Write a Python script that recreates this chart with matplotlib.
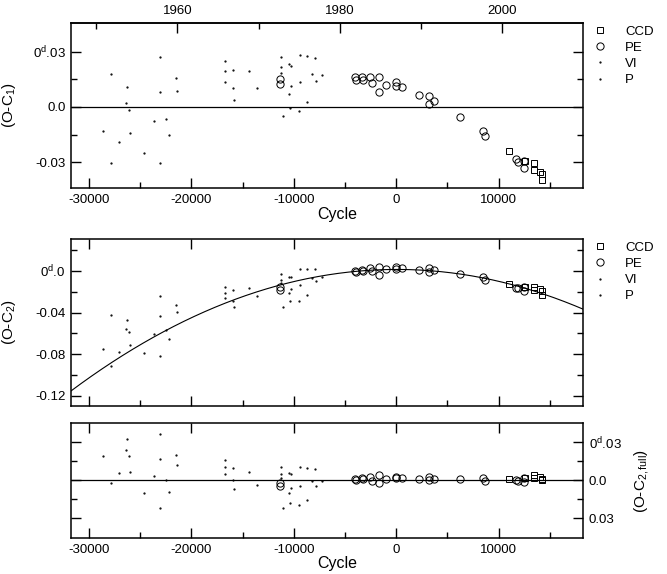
import numpy as np
import matplotlib.pyplot as plt
from matplotlib.ticker import MultipleLocator, FixedLocator

plt.rcParams['font.family'] = ['Liberation Sans', 'DejaVu Sans']
plt.rcParams['mathtext.fontset'] = 'custom'
plt.rcParams['mathtext.rm'] = 'Liberation Sans'
plt.rcParams['mathtext.it'] = 'Liberation Sans:italic'

# photographic timings
p_cycle = [-28600, -27880, -27880, -27090, -26340, -26300, -26080, -25980, -24640,
           -23660, -23100, -23070, -23070, -22480, -22190, -21500, -21370]
p_oc1 = [-0.0132, 0.0179, -0.0307, -0.0190, 0.0020, 0.0107, -0.0016, -0.0139, -0.0248,
         -0.0076, 0.0081, 0.0273, -0.0305, -0.0065, -0.0152, 0.0159, 0.0088]
p_oc2 = [-0.0749, -0.0425, -0.0911, -0.0779, -0.0556, -0.0468, -0.0587, -0.0708, -0.0793,
         -0.0603, -0.0436, -0.0244, -0.0822, -0.0571, -0.0653, -0.0329, -0.0398]
p_res = [0.0186, 0.0463, -0.0023, 0.0059, 0.0235, 0.0321, 0.0188, 0.0061, -0.0102,
         0.0033, 0.0169, 0.0360, -0.0218, 0.0002, -0.0095, 0.0194, 0.0118]

# visual timings
vi_cycle = [-16700, -16700, -16700, -15980, -15980, -15820, -14340, -13600, -11210,
            -11210, -11210, -11080, -10460, -10420, -10360, -10320, -10260, -9510,
            -9410, -9380, -8690, -8690, -8200, -7970, -7810, -7230]
vi_oc1 = [0.0249, 0.0193, 0.0137, 0.0201, 0.0103, 0.0038, 0.0195, 0.0105, 0.0273,
          0.0217, 0.0184, -0.0050, 0.0072, 0.0235, -0.0004, 0.0224, 0.0112, -0.0020,
          0.0136, 0.0284, 0.0275, 0.0025, 0.0177, 0.0267, 0.0139, 0.0175]
vi_oc2 = [-0.0152, -0.0208, -0.0264, -0.0187, -0.0285, -0.0347, -0.0164, -0.0240, -0.0029,
          -0.0085, -0.0118, -0.0350, -0.0216, -0.0053, -0.0291, -0.0062, -0.0173, -0.0291,
          -0.0133, 0.0015, 0.0019, -0.0231, -0.0070, 0.0024, -0.0101, -0.0055]
vi_res = [0.0158, 0.0102, 0.0046, 0.0095, -0.0003, -0.0070, 0.0061, -0.0039, 0.0103,
          0.0047, 0.0014, -0.0222, -0.0103, 0.0059, -0.0180, 0.0048, -0.0065, -0.0200,
          -0.0044, 0.0103, 0.0093, -0.0157, -0.0006, 0.0084, -0.0044, -0.0009]

# photoelectric timings
pe_cycle = [-11300, -11300, -4020, -3950, -3300, -3240, -2580, -2380, -1700, -1700,
            -1010, -30, -30, 590, 2190, 3200, 3200, 3730, 6210, 8500, 8660,
            11730, 11900, 12450, 12480]
pe_oc1 = [0.0150, 0.0125, 0.0161, 0.0148, 0.0161, 0.0146, 0.0161, 0.0128, 0.0164, 0.0081,
          0.0119, 0.0134, 0.0116, 0.0108, 0.0063, 0.0060, 0.0016, 0.0031, -0.0054, -0.0128,
          -0.0159, -0.0283, -0.0297, -0.0292, -0.0333]
pe_oc2 = [-0.0154, -0.0179, 0.0003, -0.0007, 0.0013, -0.0003, 0.0026, 0.0003, 0.0038, -0.0038,
          0.0016, 0.0036, 0.0016, 0.0026, 0.0013, 0.0026, -0.0007, 0.0010, -0.0029, -0.0061,
          -0.0087, -0.0161, -0.0167, -0.0157, -0.0190]
pe_res = [-0.0020, -0.0045, 0.0010, -0.0003, 0.0016, 0.0005, 0.0024, -0.0010, 0.0037, -0.0024,
          0.0010, 0.0024, 0.0016, 0.0016, 0.0010, 0.0024, -0.0003, 0.0010, 0.0010, 0.0016,
          -0.0010, -0.0003, -0.0010, 0.0016, -0.0016]

# CCD timings
ccd_cycle = [10980, 12520, 13400, 13400, 14020, 14250, 14250]
ccd_oc1 = [-0.0238, -0.0296, -0.0305, -0.0342, -0.0351, -0.0365, -0.0397]
ccd_oc2 = [-0.0128, -0.0150, -0.0157, -0.0183, -0.0176, -0.0192, -0.0228]
ccd_res = [0.0010, 0.0016, 0.0042, 0.0016, 0.0024, 0.0010, 0.0000]

# quadratic ephemeris (O-C2 fit): peak cycle, peak value, curvature
quad_peak_cycle = 55
quad_peak = 0.0015
quad_curv = 1.157e-10

# cycle <-> calendar year
cycle_1980 = -5520
cycles_per_year = 791.7

xlim = (-31750, 18250)


def cyc2yr(e):
    return 1980 + (np.asarray(e) - cycle_1980) / cycles_per_year


def yr2cyc(y):
    return cycle_1980 + (np.asarray(y) - 1980) * cycles_per_year


def style(ax):
    ax.set_xlim(xlim)
    ax.xaxis.set_major_locator(MultipleLocator(10000))
    ax.xaxis.set_minor_locator(MultipleLocator(5000))
    ax.tick_params(which='both', direction='in', right=True, width=1.0,
                   labelsize=9.5, pad=4)
    ax.tick_params(which='major', length=7)
    ax.tick_params(which='minor', length=4)
    for sp in ax.spines.values():
        sp.set_linewidth(1.1)


def draw_points(ax, vi, p, pe, ccd):
    ax.plot(vi_cycle, vi, '.', color='k', ms=1.2, label='VI', zorder=3)
    ax.plot(p_cycle, p, '.', color='k', ms=1.2, label='P', zorder=3)
    ax.plot(pe_cycle, pe, 'o', mfc='none', mec='k', mew=0.7, ms=5.2, label='PE', zorder=4)
    ax.plot(ccd_cycle, ccd, 's', mfc='none', mec='k', mew=0.7, ms=4.2, label='CCD', zorder=4)


def add_legend(ax):
    h, l = ax.get_legend_handles_labels()
    order = [l.index(n) for n in ['CCD', 'PE', 'VI', 'P']]
    ax.legend([h[i] for i in order], [l[i] for i in order], loc='upper left',
              bbox_to_anchor=(1.02, 0.985), frameon=False, fontsize=9.5,
              handlelength=1.0, handletextpad=1.4, labelspacing=0.3,
              borderaxespad=0, borderpad=0)


fig = plt.figure(figsize=(6.67, 5.74), dpi=100)

# --- top panel: O-C1
ax1 = fig.add_axes([0.1064, 0.6725, 0.768, 0.2875])
style(ax1)
ax1.tick_params(top=False)
ax1.axhline(0, color='k', lw=0.9, zorder=1)
draw_points(ax1, vi_oc1, p_oc1, pe_oc1, ccd_oc1)
ax1.set_ylim(-0.044, 0.0456)
ax1.yaxis.set_major_locator(FixedLocator([-0.03, 0.0, 0.03]))
ax1.yaxis.set_minor_locator(FixedLocator([-0.015, 0.015]))
ax1.set_yticklabels(['-0.03', '0.0', r'0$^{\mathrm{d}}$.03'])
ax1.set_xticks([-30000, -20000, -10000, 0, 10000])
ax1.set_xticklabels(['-30000', '-20000', '-10000', '0', '10000'])
ax1.set_ylabel(r'(O-C$_1$)', fontsize=11)
ax1.yaxis.set_label_coords(-0.104, 0.5)
ax1.set_xlabel('Cycle', fontsize=11.5)
ax1.xaxis.set_label_coords(0.52, -0.115)
add_legend(ax1)

sec = ax1.secondary_xaxis('top', functions=(cyc2yr, yr2cyc))
sec.xaxis.set_major_locator(FixedLocator([1960, 1980, 2000]))
sec.xaxis.set_minor_locator(FixedLocator([1950, 1970, 1990]))
sec.tick_params(which='both', direction='in', width=1.0, labelsize=9.5, pad=4)
sec.tick_params(which='major', length=7.5)
sec.tick_params(which='minor', length=4.5)
sec.spines['top'].set_linewidth(1.1)

# --- middle panel: O-C2 with quadratic fit
ax2 = fig.add_axes([0.1064, 0.2927, 0.768, 0.2909])
style(ax2)
ax2.tick_params(top=True, labelbottom=False)
e = np.linspace(xlim[0], xlim[1], 300)
ax2.plot(e, quad_peak - quad_curv * (e - quad_peak_cycle) ** 2, color='k', lw=0.8, zorder=2)
draw_points(ax2, vi_oc2, p_oc2, pe_oc2, ccd_oc2)
ax2.set_ylim(-0.130, 0.0308)
ax2.yaxis.set_major_locator(FixedLocator([-0.12, -0.08, -0.04, 0.0]))
ax2.yaxis.set_minor_locator(FixedLocator([-0.10, -0.06, -0.02, 0.02]))
ax2.set_yticklabels(['-0.12', '-0.08', '-0.04', r'0$^{\mathrm{d}}$.0'])
ax2.set_ylabel(r'(O-C$_2$)', fontsize=11)
ax2.yaxis.set_label_coords(-0.104, 0.5)
add_legend(ax2)

# --- bottom panel: residuals from full quadratic fit
ax3 = fig.add_axes([0.1064, 0.0622, 0.768, 0.2003])
style(ax3)
ax3.tick_params(top=True, left=True, labelleft=False, labelright=True)
ax3.axhline(0, color='k', lw=0.9, zorder=1)
draw_points(ax3, vi_res, p_res, pe_res, ccd_res)
ax3.set_ylim(-0.046, 0.0448)
ax3.yaxis.set_major_locator(FixedLocator([-0.03, 0.0, 0.03]))
ax3.yaxis.set_minor_locator(FixedLocator([-0.015, 0.015]))
ax3.set_yticklabels(['0.03', '0.0', r'0$^{\mathrm{d}}$.03'])
ax3.set_xticks([-30000, -20000, -10000, 0, 10000])
ax3.set_xticklabels(['-30000', '-20000', '-10000', '0', '10000'])
ax3.yaxis.set_label_position('right')
ax3.set_ylabel(r'(O-C$_{\mathrm{2,full}}$)', fontsize=11, rotation=90)
ax3.yaxis.set_label_coords(1.096, 0.5)
ax3.set_xlabel('Cycle', fontsize=11.5)
ax3.xaxis.set_label_coords(0.52, -0.155)

fig.savefig('out.png', dpi=100)
